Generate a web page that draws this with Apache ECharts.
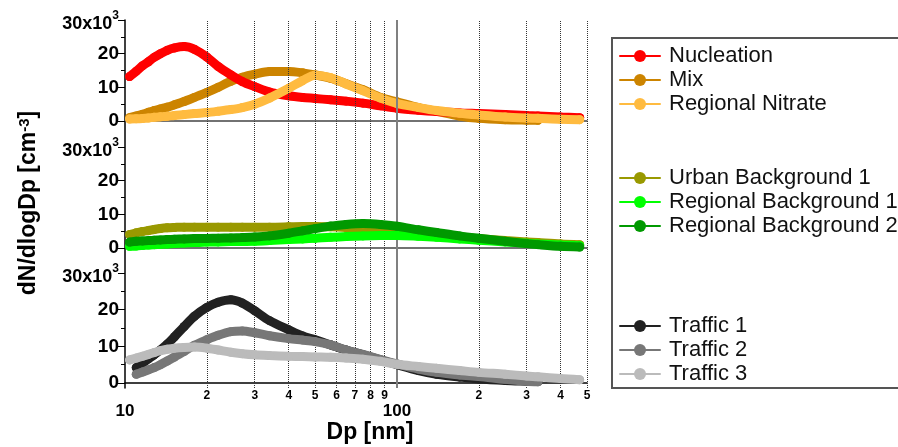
<!DOCTYPE html>
<html>
<head>
<meta charset="utf-8">
<script src="https://cdn.jsdelivr.net/npm/echarts@6/dist/echarts.min.js"></script>
<style>
  html, body { margin: 0; padding: 0; background: #fff; }
  #chart { width: 898px; height: 447px; }
</style>
</head>
<body>
<div id="chart"></div>
<script>
// particle diameter grid (nm), shared by every profile
const dp = [10.4, 11, 11.6, 12.2, 12.8, 13.5, 14.3, 15.2, 16.5, 18, 20, 22, 24.5, 27, 30, 34, 40, 45, 50, 57, 65, 75, 87, 100, 120, 140, 170, 200, 250, 300, 330, 400, 470];

// dN/dlogDp in 10^3 cm^-3 (null = no data)
const nucleation = [13.2, 14.8, 16.4, 17.6, 18.9, 20.0, 21.0, 21.7, 22.1, 21.3, 19.0, 16.2, 13.7, 11.7, 10.2, 8.6, 7.5, 7.0, 6.7, 6.3, 5.9, 5.3, 4.5, 3.8, 3.2, 2.8, 2.4, 2.2, 1.9, 1.6, 1.5, 1.2, 1.0];
const mix = [1.0, 1.5, 2.0, 2.6, 3.1, 3.6, 4.1, 4.8, 5.8, 7.0, 8.5, 10.0, 11.8, 13.0, 13.9, 14.7, 14.7, 14.3, 13.7, 12.7, 11.1, 9.3, 7.0, 5.7, 4.0, 2.9, 1.5, 0.8, 0.4, 0.25, 0.2, null, null];
const regionalNitrate = [0.6, 0.65, 0.75, 0.9, 1.1, 1.25, 1.4, 1.65, 1.9, 2.2, 2.5, 2.9, 3.4, 4.0, 5.0, 6.8, 9.7, 12.0, 13.6, 12.9, 11.0, 9.0, 6.8, 5.2, 4.0, 3.1, 2.3, 1.8, 1.2, 0.9, 0.8, 0.5, 0.4];

const urbanBg1 = [4.0, 4.5, 4.9, 5.2, 5.5, 5.8, 6.0, 6.1, 6.2, 6.2, 6.2, 6.2, 6.2, 6.2, 6.2, 6.2, 6.3, 6.4, 6.4, 6.3, 6.1, 5.8, 5.6, 5.3, 4.7, 4.2, 3.4, 2.8, 2.2, 1.8, 1.6, 1.2, 1.0];
const regionalBg1 = [0.5, 0.6, 0.75, 0.9, 1.0, 1.1, 1.2, 1.35, 1.5, 1.6, 1.75, 1.8, 1.9, 1.95, 2.0, 2.2, 2.5, 2.7, 2.9, 3.2, 3.4, 3.6, 3.7, 3.75, 3.5, 3.2, 2.7, 2.3, 1.8, 1.4, 1.2, 0.9, 0.7];
const regionalBg2 = [1.75, 2.0, 2.1, 2.2, 2.3, 2.4, 2.5, 2.6, 2.7, 2.8, 2.85, 2.9, 3.0, 3.1, 3.25, 3.6, 4.4, 5.1, 5.75, 6.5, 7.0, 7.25, 7.0, 6.45, 5.4, 4.6, 3.6, 2.9, 2.0, 1.3, 1.0, 0.5, 0.3];

const traffic1 = [null, 4.2, 5.4, 6.6, 7.7, 9.0, 10.6, 12.6, 15.4, 18.2, 20.6, 22.0, 22.7, 21.8, 19.7, 17.0, 14.5, 12.8, 11.8, 10.4, 9.0, 7.7, 6.3, 5.0, 3.4, 2.4, 1.6, 1.1, 0.7, 0.5, 0.4, null, null];
const traffic2 = [null, 2.4, 3.0, 3.6, 4.2, 5.0, 6.0, 7.1, 8.6, 10.3, 11.8, 13.0, 14.0, 14.2, 13.7, 12.9, 12.1, 11.7, 11.3, 10.4, 9.0, 7.8, 6.4, 5.2, 3.8, 2.9, 2.2, 1.8, 1.0, 0.5, 0.35, null, null];
const traffic3 = [6.3, 6.8, 7.3, 7.8, 8.3, 8.8, 9.2, 9.5, 9.7, 9.8, 9.5, 9.0, 8.4, 8.0, 7.7, 7.5, 7.3, 7.2, 7.1, 7.0, 6.8, 6.5, 5.9, 5.1, 4.5, 4.0, 3.4, 2.9, 2.4, 1.9, 1.7, 1.2, 0.9];

// dotted grid lines of the log axis and their small labels
const gridTicks = [20, 30, 40, 50, 60, 70, 80, 90, 200, 300, 400, 500];
const gridTickLabels = ['2', '3', '4', '5', '6', '7', '8', '9', '2', '3', '4', '5'];

const FONT = 'Liberation Sans, Arial, Helvetica, sans-serif';

const panels = [
  { top: 20, height: 101 },
  { top: 147, height: 101 },
  { top: 273, height: 110 }
];

function pairs(vals) {
  const out = [];
  vals.forEach((v, i) => { if (v !== null) out.push([dp[i], v]); });
  return out;
}

let zNext = 2;
function profile(name, vals, color, panel) {
  return {
    name: name,
    type: 'line',
    xAxisIndex: panel,
    yAxisIndex: panel,
    z: zNext++,
    data: pairs(vals),
    smooth: 0.3,
    symbol: 'circle',
    symbolSize: 9,
    showSymbol: true,
    lineStyle: { width: 9, color: color, cap: 'round' },
    itemStyle: { color: color },
    emphasis: { disabled: true },
    animation: false
  };
}

const grids = panels.map(p => ({ left: 125, width: 462, top: p.top, height: p.height }));
grids.push({ left: 125, width: 462, top: 20, height: 368 });

const xAxes = panels.map((p, i) => ({
  type: 'log',
  logBase: 10,
  min: 10,
  max: 500,
  gridIndex: i,
  axisLine: { show: true, lineStyle: { color: i === 2 ? '#000' : '#444', width: 1.5 } },
  axisTick: { show: false },
  splitLine: { show: false },
  axisLabel: {
    show: i === 2,
    margin: 20,
    fontFamily: FONT,
    fontWeight: 'bold',
    fontSize: 17,
    color: '#000',
    formatter: v => (v === 10 || v === 100) ? String(v) : ''
  }
}));
xAxes.push({ type: 'log', logBase: 10, min: 10, max: 500, gridIndex: 3, show: false });

const yAxes = panels.map((p, i) => ({
  type: 'value',
  gridIndex: i,
  min: 0,
  max: 30,
  interval: 10,
  axisLine: { show: false },
  axisTick: { show: true, length: 7, lineStyle: { color: '#000', width: 1 } },
  minorTick: { show: true, splitNumber: 2, length: 4, lineStyle: { color: '#000', width: 1 } },
  splitLine: { show: false },
  axisLabel: {
    margin: 6,
    color: '#000',
    formatter: v => v === 30 ? '{h|30x10}{e|3}' : '{t|' + v + '}',
    rich: {
      t: { fontFamily: FONT, fontWeight: 'bold', fontSize: 19, color: '#000' },
      h: { fontFamily: FONT, fontWeight: 'bold', fontSize: 18, color: '#000', padding: [8, 0, 0, 0] },
      e: { fontFamily: FONT, fontWeight: 'bold', fontSize: 12, color: '#000', verticalAlign: 'top', padding: [3, 0, 0, 0] }
    }
  }
}));
yAxes.push({
  type: 'value',
  gridIndex: 3,
  min: 0,
  max: 1,
  axisLine: { show: true, lineStyle: { color: '#000', width: 1.5 } },
  axisTick: { show: false },
  axisLabel: { show: false },
  splitLine: { show: false }
});

// vertical grid lines across all three panels
const gridLineSeries = {
  name: 'grid',
  type: 'line',
  xAxisIndex: 3,
  yAxisIndex: 3,
  data: [],
  silent: true,
  z: 1,
  markLine: {
    silent: true,
    symbol: ['none', 'none'],
    animation: false,
    data: gridTicks.map((v, i) => ({
      xAxis: v,
      lineStyle: { type: 'dotted', color: '#333', width: 1 },
      label: {
        show: true,
        position: 'start',
        distance: 2,
        formatter: gridTickLabels[i],
        fontFamily: FONT,
        fontWeight: 'bold',
        fontSize: 12,
        color: '#000'
      }
    })).concat([{
      xAxis: 100,
      lineStyle: { type: 'solid', color: '#808080', width: 2 },
      label: { show: false }
    }])
  }
};

const legendBase = {
  orient: 'vertical',
  left: 619,
  padding: 0,
  itemWidth: 40,
  itemHeight: 15,
  itemGap: 0,
  selectedMode: false,
  textStyle: { fontFamily: FONT, fontSize: 22, color: '#111', lineHeight: 24, padding: [0, 0, 0, 4] }
};

const chart = echarts.init(document.getElementById('chart'), null, { renderer: 'canvas' });

chart.setOption({
  backgroundColor: '#fff',
  animation: false,
  grid: grids,
  xAxis: xAxes,
  yAxis: yAxes,
  legend: [
    Object.assign({}, legendBase, { top: 44, data: ['Nucleation', 'Mix', 'Regional Nitrate'] }),
    Object.assign({}, legendBase, { top: 166, data: ['Urban Background 1', 'Regional Background 1', 'Regional Background 2'] }),
    Object.assign({}, legendBase, { top: 314, data: ['Traffic 1', 'Traffic 2', 'Traffic 3'] })
  ],
  graphic: [
    {
      type: 'rect',
      shape: { x: 612, y: 38, width: 300, height: 350 },
      style: { fill: 'none', stroke: '#555', lineWidth: 2 },
      silent: true
    },
    {
      type: 'text',
      x: 29,
      y: 203,
      rotation: Math.PI / 2,
      style: {
        text: '{a|dN/dlogDp [cm}{s|-3}{a|]}',
        align: 'center',
        verticalAlign: 'middle',
        rich: {
          a: { fontFamily: FONT, fontWeight: 'bold', fontSize: 23, fill: '#000' },
          s: { fontFamily: FONT, fontWeight: 'bold', fontSize: 15, fill: '#000', verticalAlign: 'top' }
        }
      }
    },
    {
      type: 'text',
      x: 370,
      y: 433,
      style: {
        text: 'Dp [nm]',
        align: 'center',
        verticalAlign: 'middle',
        fontFamily: FONT,
        fontWeight: 'bold',
        fontSize: 23,
        fill: '#000'
      }
    }
  ],
  series: [
    gridLineSeries,
    profile('Mix', mix, '#cc8400', 0),
    profile('Nucleation', nucleation, '#ff0000', 0),
    profile('Regional Nitrate', regionalNitrate, '#ffbb40', 0),
    profile('Urban Background 1', urbanBg1, '#999900', 1),
    profile('Regional Background 1', regionalBg1, '#00ff00', 1),
    profile('Regional Background 2', regionalBg2, '#009900', 1),
    profile('Traffic 1', traffic1, '#222222', 2),
    profile('Traffic 2', traffic2, '#777777', 2),
    profile('Traffic 3', traffic3, '#bbbbbb', 2)
  ]
});
</script>
</body>
</html>
